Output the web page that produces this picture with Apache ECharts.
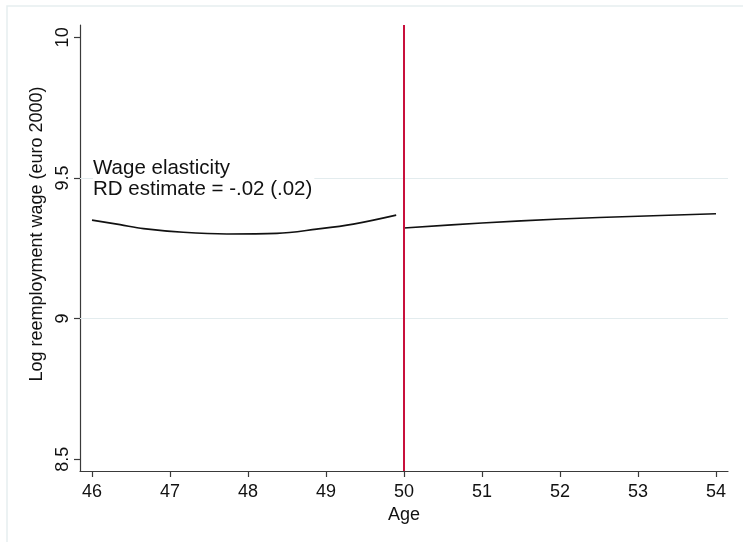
<!DOCTYPE html>
<html>
<head>
<meta charset="utf-8">
<script src="https://cdn.jsdelivr.net/npm/echarts@6/dist/echarts.min.js"></script>
<style>
html,body{margin:0;padding:0;background:#fff;}
#chart{width:743px;height:542px;}
</style>
</head>
<body>
<div id="chart"></div>
<script>
// Data
var leftAge   = [46.0, 46.36, 46.66, 47.17, 47.73, 48.37, 48.88, 49.35, 49.9];
var leftWage  = [9.350, 9.334, 9.320, 9.307, 9.301, 9.303, 9.318, 9.336, 9.368];
var rightAge  = [50.0, 51.0, 52.0, 53.0, 54.0];
var rightWage = [9.322, 9.340, 9.354, 9.364, 9.373];
var xTicks = [46, 47, 48, 49, 50, 51, 52, 53, 54];
var yTicks = [8.5, 9, 9.5, 10];
var yGrid  = [9, 9.5];
var cutoff = 50;
var noteLines = ['Wage elasticity', 'RD estimate = -.02 (.02)'];

var FONT = '"Liberation Sans", Arial, Helvetica, sans-serif';
var chart = echarts.init(document.getElementById('chart'), null, {renderer: 'canvas'});

function pairs(xs, ys) { return xs.map(function (x, i) { return [x, ys[i]]; }); }

var option = {
  backgroundColor: '#ffffff',
  animation: false,
  grid: {left: 80, right: 15, top: 25, bottom: 71, containLabel: false},
  xAxis: {
    type: 'value',
    min: 45.846, max: 54.154,
    name: 'Age', nameLocation: 'middle', nameGap: 29,
    nameTextStyle: {fontFamily: FONT, fontSize: 18, color: '#111'},
    axisLine: {show: true, onZero: false, lineStyle: {color: '#3a3a3a', width: 1.2}},
    axisTick: {show: true, length: 6, customValues: xTicks, lineStyle: {color: '#3a3a3a', width: 1.2}},
    axisLabel: {customValues: xTicks, margin: 12, fontFamily: FONT, fontSize: 18, color: '#111'},
    splitLine: {show: false}
  },
  yAxis: {
    type: 'value',
    min: 8.458, max: 10.044,
    name: 'Log reemployment wage (euro 2000)', nameLocation: 'middle', nameGap: 28, nameRotate: 90,
    nameTextStyle: {fontFamily: FONT, fontSize: 18, color: '#111', padding: [0, 0, 0, 28]},
    axisLine: {show: true, onZero: false, lineStyle: {color: '#3a3a3a', width: 1.2}},
    axisTick: {show: true, length: 6, customValues: yTicks, lineStyle: {color: '#3a3a3a', width: 1.2}},
    axisLabel: {customValues: yTicks, rotate: 90, margin: 8, fontFamily: FONT, fontSize: 18, color: '#111',
      formatter: function (v) { return String(v); }},
    splitLine: {show: false}
  },
  series: [
    {
      type: 'line', data: pairs(leftAge, leftWage), smooth: 0.35, showSymbol: false, symbol: 'none',
      lineStyle: {color: '#111', width: 1.6}, z: 5,
      markLine: {
        silent: true, symbol: 'none', animation: false, z: 1,
        label: {show: false},
        lineStyle: {color: '#e3ecee', width: 1, type: 'solid'},
        data: yGrid.map(function (v) { return {yAxis: v}; })
      }
    },
    {
      type: 'line', data: pairs(rightAge, rightWage), smooth: 0.35, showSymbol: false, symbol: 'none',
      lineStyle: {color: '#111', width: 1.6}, z: 5,
      markLine: {
        silent: true, symbol: 'none', animation: false, z: 6,
        label: {show: false},
        lineStyle: {color: '#c8103c', width: 2, type: 'solid'},
        data: [{xAxis: cutoff}]
      }
    }
  ]
};
chart.setOption(option);

// annotation text anchored at data coordinates (left edge at age 46, centred around 9.5)
var p = chart.convertToPixel({gridIndex: 0}, [46, 9.497]);
chart.setOption({
  graphic: [
    {type: 'rect', silent: true, z: -10, shape: {x: 7, y: 6, width: 760, height: 560},
      style: {fill: 'none', stroke: '#e6eeef', lineWidth: 1.5}},
    {type: 'text', x: p[0] + 1, y: p[1], z: 20,
      style: {text: noteLines.join('\n'), font: '20.5px ' + FONT, fill: '#111',
        lineHeight: 21, textVerticalAlign: 'middle',
        backgroundColor: '#ffffff', padding: [0, 2, 0, 0]}}
  ]
});
</script>
</body>
</html>
